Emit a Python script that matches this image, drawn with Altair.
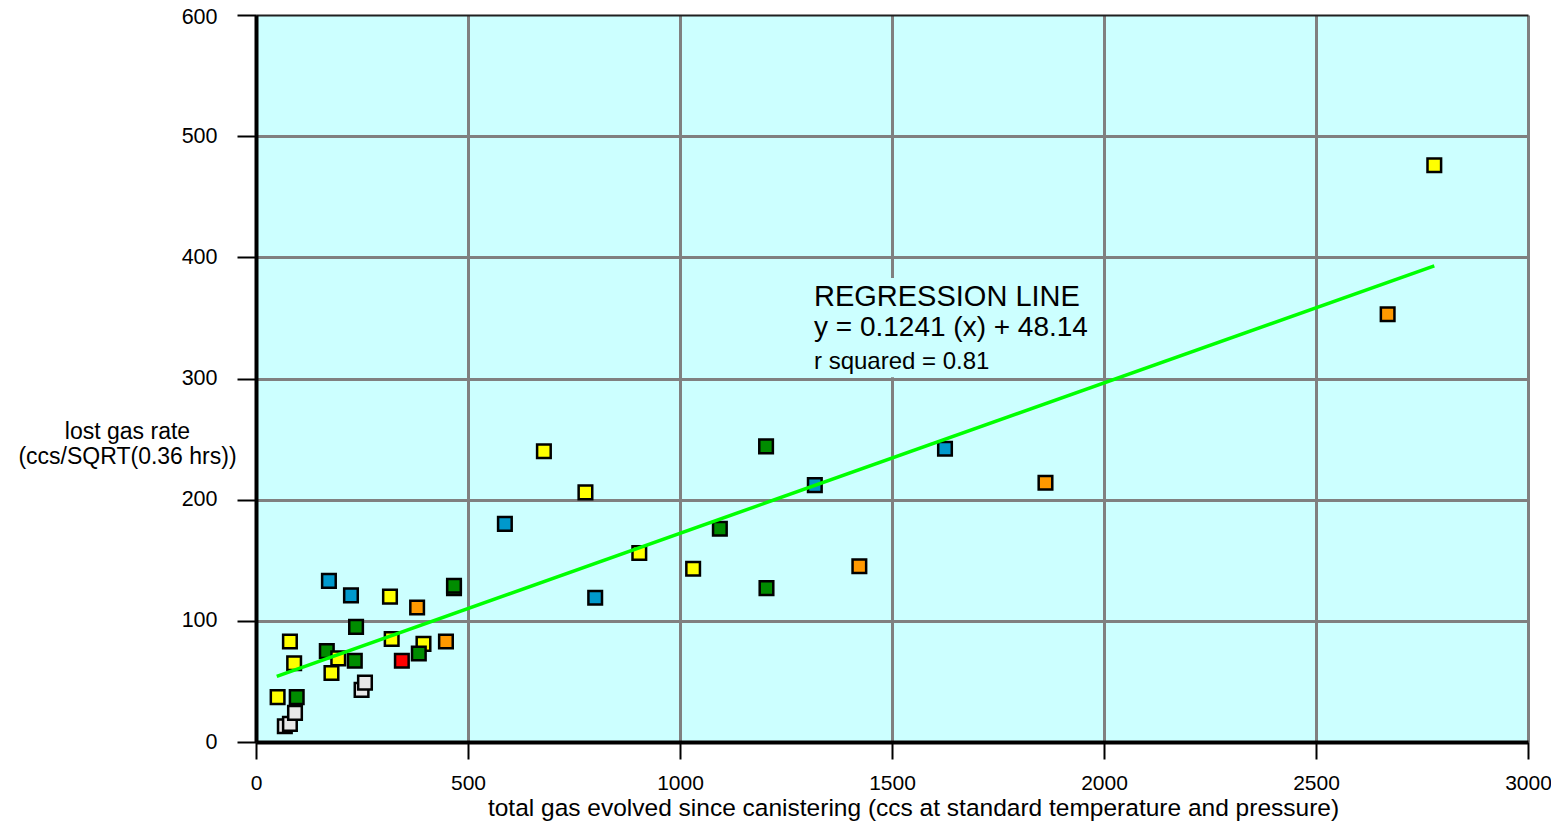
import altair as alt
import pandas as pd

# ---- data ----
gas_total = [68, 80, 92, 51, 96, 249, 257, 178, 90, 167, 194, 233, 344, 395, 384, 448, 320, 80, 236, 380,
             316, 224, 172, 467, 467, 587, 679, 777, 800, 904, 1031, 1094, 1203, 1204, 1318, 1423, 1625,
             1862, 2669, 2779]
lost_rate = [13, 15, 24, 37, 37, 43, 49, 57, 65, 75, 69, 67, 67, 81, 73, 83, 85, 83, 95, 111,
             120, 121, 133, 127, 129, 180, 240, 206, 119, 156, 143, 176, 244, 127, 212, 145, 242,
             214, 353, 476]
series = ["gray", "gray", "gray", "yellow", "green", "gray", "gray", "yellow", "yellow", "green",
          "yellow", "green", "red", "yellow", "green", "orange", "yellow", "yellow", "green", "orange",
          "yellow", "blue", "blue", "green", "green", "blue", "yellow", "yellow", "blue", "yellow",
          "yellow", "green", "green", "green", "blue", "orange", "blue", "orange", "orange", "yellow"]

series_names = ["yellow", "green", "blue", "orange", "red", "gray"]
series_colors = ["#FFFF00", "#008C00", "#0099CC", "#FF9900", "#FF0000", "#E8E8E8"]

slope = 0.1241
intercept = 48.14
line_x = [49, 2779]

x_ticks = [0, 500, 1000, 1500, 2000, 2500, 3000]
y_ticks = [0, 100, 200, 300, 400, 500, 600]

note_lines = ["REGRESSION LINE", "y = 0.1241 (x) + 48.14", "r squared = 0.81"]
note_sizes = [29, 28, 24]
note_y = [360, 335, 308]
note_x = 1316
box_x = [1307, 1991]
box_y = [301, 383]

FONT = "Liberation Sans, Arial, Helvetica, sans-serif"

pts = pd.DataFrame({"x": gas_total, "y": lost_rate, "s": series, "order": list(range(len(series)))})
line_df = pd.DataFrame({"x": line_x, "y": [slope * v + intercept for v in line_x]})
notes = pd.DataFrame({"t": note_lines, "fs": note_sizes, "y": note_y, "x": [note_x] * 3})
box = pd.DataFrame({"x": [box_x[0]], "x2": [box_x[1]], "y": [box_y[0]], "y2": [box_y[1]]})

xscale = alt.Scale(domain=[0, 3000], nice=False, zero=False)
yscale = alt.Scale(domain=[0, 600], nice=False, zero=False)

xaxis = alt.Axis(
    values=x_ticks, format="d",
    title="total gas evolved since canistering (ccs at standard temperature and pressure)",
    labelFont=FONT, labelFontSize=21, labelColor="black", labelPadding=13,
    titleFont=FONT, titleFontSize=24.5, titleFontWeight="normal", titleColor="black",
    titleX=657, titleY=73, titleAlign="center", titleBaseline="alphabetic",
    domainColor="black", domainWidth=4, tickColor="black", tickWidth=2, tickSize=17,
    grid=True, gridColor="#808080", gridWidth=3, labelFlush=False, labelOverlap=False,
)
yaxis = alt.Axis(
    values=y_ticks, format="d", title=["lost gas rate", "(ccs/SQRT(0.36 hrs))"],
    labelFont=FONT, labelFontSize=21.5, labelColor="black", labelPadding=20,
    labelOffset={"condition": {"test": "datum.value === 600", "value": 2}, "value": 0},
    titleFont=FONT, titleFontSize=23, titleFontWeight="normal", titleColor="black",
    titleAngle=0, titleX=-129, titleY=423, titleAlign="center", titleBaseline="alphabetic",
    titleLineHeight=25,
    domainColor="black", domainWidth=4, tickColor="black", tickWidth=2, tickSize=19,
    grid=True,
    gridColor={"condition": {"test": "datum.value === 600", "value": "#202020"}, "value": "#808080"},
    gridWidth={"condition": {"test": "datum.value === 600", "value": 2}, "value": 3},
    labelFlush=False, labelOverlap=False,
)

box_layer = alt.Chart(box).mark_rect(fill="#CCFFFF").encode(
    x=alt.X("x:Q", scale=xscale, axis=xaxis), x2="x2:Q",
    y=alt.Y("y:Q", scale=yscale, axis=yaxis), y2="y2:Q",
)

note_layer = alt.Chart(notes).mark_text(
    align="left", baseline="alphabetic", font=FONT, color="black"
).encode(
    x=alt.X("x:Q", scale=xscale), y=alt.Y("y:Q", scale=yscale),
    text="t:N", size=alt.Size("fs:Q", scale=None, legend=None),
)

point_layer = alt.Chart(pts).mark_square(
    size=185, stroke="black", strokeWidth=2.5, opacity=1, filled=True
).encode(
    x=alt.X("x:Q", scale=xscale),
    y=alt.Y("y:Q", scale=yscale),
    fill=alt.Fill("s:N", scale=alt.Scale(domain=series_names, range=series_colors), legend=None),
    order=alt.Order("order:Q"),
)

line_layer = alt.Chart(line_df).mark_line(color="#00FF00", strokeWidth=3.5).encode(
    x=alt.X("x:Q", scale=xscale), y=alt.Y("y:Q", scale=yscale),
)

chart = alt.layer(box_layer, note_layer, point_layer, line_layer).properties(
    width=1272, height=727,
    autosize=alt.AutoSizeParams(type="none"),
    padding={"left": 248, "top": 7, "right": 23, "bottom": 80},
    background="white",
).configure_view(fill="#CCFFFF", stroke=None)

chart.save("out.html", embed_options={"renderer": "svg", "actions": False})
